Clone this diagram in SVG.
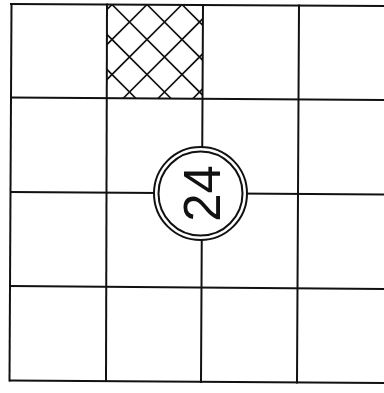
<svg xmlns="http://www.w3.org/2000/svg" width="384" height="393" viewBox="0 0 384 393">
<style>
.g{stroke:#111;stroke-width:2;fill:none;stroke-linecap:square}
.h{stroke:#111;stroke-width:1.6;fill:none}
.c{stroke:#111;stroke-width:2;fill:#fff}
.t{font-family:"Liberation Sans",Arial,sans-serif;font-size:51px;fill:#111;text-anchor:middle}
</style>
<defs>
<clipPath id="cell"><rect x="107" y="4.5" width="95.5" height="93.5"/></clipPath>
</defs>
<rect width="384" height="393" fill="#fff"/>
<g id="hatched-cell" clip-path="url(#cell)">
<path class="h" d="M116.5,0 L6.5,110 M151.5,0 L41.5,110 M186.5,0 L76.5,110 M221.5,0 L111.5,110 M256.5,0 L146.5,110 M291.5,0 L181.5,110 M37.5,0 L147.5,110 M72.5,0 L182.5,110 M107.5,0 L217.5,110 M142.5,0 L252.5,110 M177.5,0 L287.5,110"/>
</g>
<g id="grid">
<line class="g" x1="11" y1="4" x2="384" y2="6"/>
<line class="g" x1="11" y1="97.5" x2="384" y2="100"/>
<line class="g" x1="11" y1="192" x2="384" y2="194.5"/>
<line class="g" x1="10" y1="286" x2="384" y2="289"/>
<line class="g" x1="10" y1="380.5" x2="384" y2="383"/>
<line class="g" x1="11.5" y1="4" x2="9.5" y2="380.5"/>
<line class="g" x1="107" y1="4.5" x2="106" y2="381"/>
<line class="g" x1="203" y1="5" x2="201" y2="382"/>
<line class="g" x1="299" y1="5.5" x2="297" y2="382.5"/>
</g>
<g id="node-24">
<circle class="c" cx="200.5" cy="193.5" r="46.5"/>
<circle class="c" cx="200.5" cy="193.5" r="42"/>
<text class="t" transform="translate(201.5,193.5) rotate(-90)" y="18.5">24</text>
</g>
</svg>
